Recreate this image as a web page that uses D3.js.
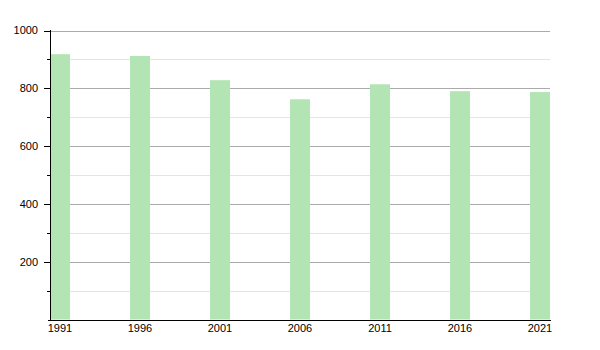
<!DOCTYPE html>
<html>
<head>
<meta charset="utf-8">
<script src="https://cdn.jsdelivr.net/npm/d3@7"></script>
<style>
  body { margin: 0; background: #fff; }
  text { font-family: "Liberation Sans", Arial, sans-serif; font-size: 11px; fill: #000; }
</style>
</head>
<body>
<svg class="chart"></svg>
<script>
(function () {
    const years = ["1991", "1996", "2001", "2006", "2011", "2016", "2021"];
    const population = [918, 912, 828, 762, 814, 790, 787];
    const majorTicks = [200, 400, 600, 800, 1000];
    const minorTicks = [100, 300, 500, 700, 900];

    const width = 600, height = 350;
    const margin = { left: 50, top: 30, right: 50, bottom: 30 };

    let svg = d3.select("svg.chart")
        .attr("width", width)
        .attr("height", height);

    let x = d3.scaleBand()
        .domain(years)
        .range([margin.left, width - margin.right])
        .paddingInner(0.75)
        .paddingOuter(0);

    let y = d3.scaleLinear()
        .domain([0, 1000])
        .range([height - margin.bottom - 0.5, margin.top + 0.5]);

    // minor grid
    svg.append("g").selectAll("line")
        .data(minorTicks)
        .enter().append("line")
        .attr("x1", margin.left)
        .attr("x2", width - margin.right)
        .attr("y1", function (d) { return Math.round(y(d)) + 0.5; })
        .attr("y2", function (d) { return Math.round(y(d)) + 0.5; })
        .attr("stroke", "#e4e4e4");

    // major grid
    svg.append("g").selectAll("line")
        .data(majorTicks)
        .enter().append("line")
        .attr("x1", margin.left)
        .attr("x2", width - margin.right)
        .attr("y1", function (d) { return Math.round(y(d)) + 0.5; })
        .attr("y2", function (d) { return Math.round(y(d)) + 0.5; })
        .attr("stroke", "#ababab");

    // bars
    svg.append("g").selectAll("rect")
        .data(years)
        .enter().append("rect")
        .attr("x", function (d) { return x(d); })
        .attr("width", x.bandwidth())
        .attr("y", function (d, i) { return y(population[i]); })
        .attr("height", function (d, i) { return y(0) - y(population[i]); })
        .attr("fill", "#b3e4b3");

    // y axis
    let yAxis = svg.append("g");
    yAxis.append("line")
        .attr("x1", margin.left + 0.5).attr("x2", margin.left + 0.5)
        .attr("y1", y(1000) - 0.5).attr("y2", height - margin.bottom + 0.5)
        .attr("stroke", "#000");
    yAxis.selectAll(".major")
        .data(majorTicks)
        .enter().append("line")
        .attr("x1", margin.left - 6).attr("x2", margin.left)
        .attr("y1", function (d) { return Math.round(y(d)) + 0.5; })
        .attr("y2", function (d) { return Math.round(y(d)) + 0.5; })
        .attr("stroke", "#000");
    yAxis.selectAll(".minor")
        .data(minorTicks)
        .enter().append("line")
        .attr("x1", margin.left - 3).attr("x2", margin.left)
        .attr("y1", function (d) { return Math.round(y(d)) + 0.5; })
        .attr("y2", function (d) { return Math.round(y(d)) + 0.5; })
        .attr("stroke", "#000");
    yAxis.selectAll("text")
        .data(majorTicks)
        .enter().append("text")
        .attr("x", margin.left - 12)
        .attr("y", function (d) { return y(d); })
        .attr("dy", "0.35em")
        .attr("text-anchor", "end")
        .text(function (d) { return d; });

    // x axis
    let xAxis = svg.append("g");
    xAxis.append("line")
        .attr("x1", margin.left - 2).attr("x2", width - margin.right + 1)
        .attr("y1", height - margin.bottom + 0.5).attr("y2", height - margin.bottom + 0.5)
        .attr("stroke", "#000");
    xAxis.selectAll("text")
        .data(years)
        .enter().append("text")
        .attr("x", function (d) { return x(d) + x.bandwidth() / 2; })
        .attr("y", height - margin.bottom + 12)
        .attr("text-anchor", "middle")
        .text(function (d) { return d; });
}());
</script>
</body>
</html>
